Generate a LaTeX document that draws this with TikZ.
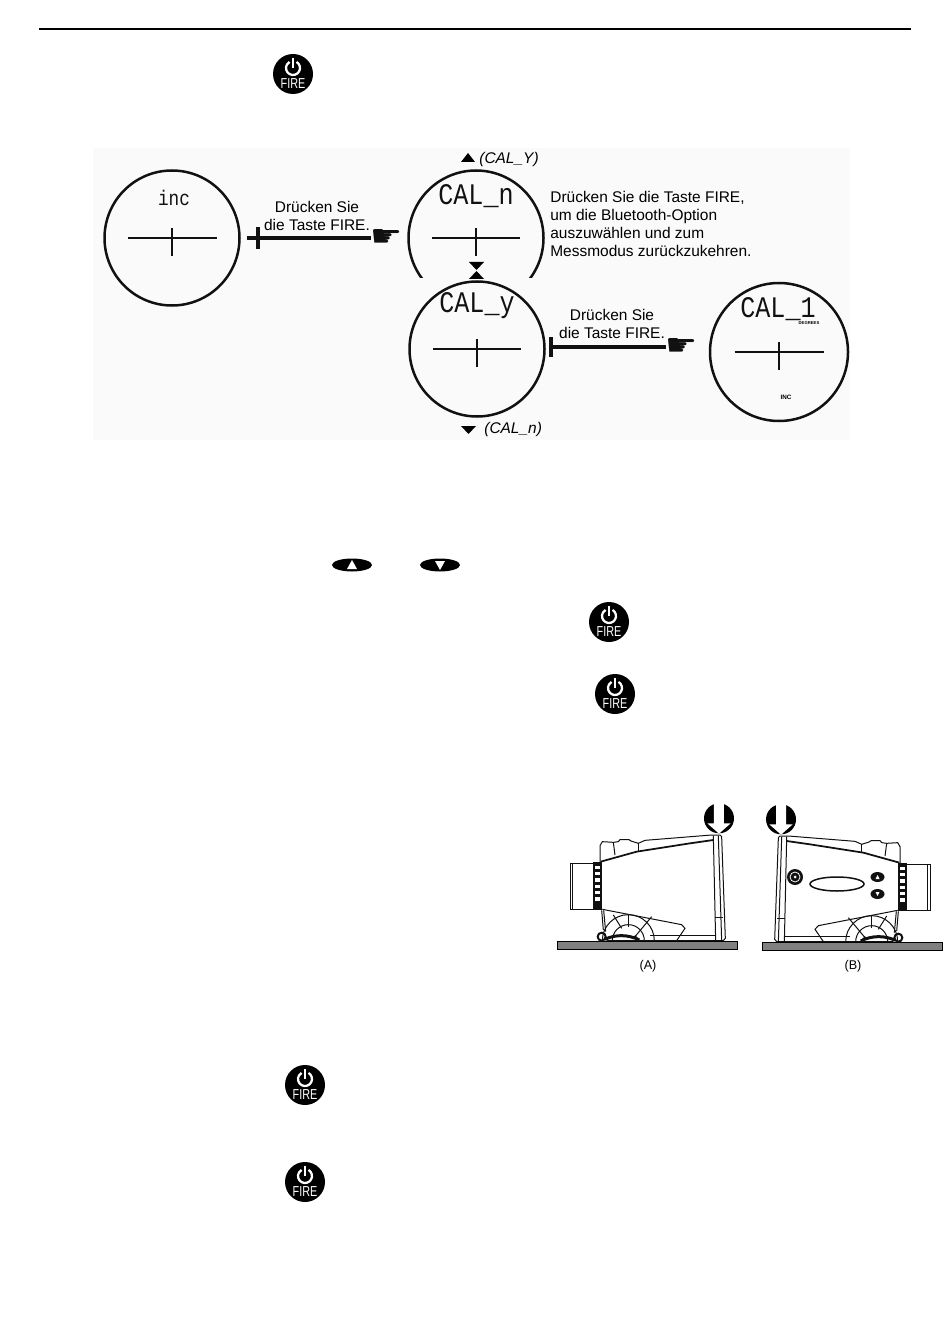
\documentclass[tikz,border=0pt]{standalone}
\usepackage{fontspec}
\setmainfont{Liberation Sans}
\newfontfamily\lcdfont{Liberation Mono}
\newfontfamily\symfont{DejaVu Sans}
\usepackage{xcolor}
\usepackage{tikz}
\definecolor{panel}{HTML}{FAFAFA}
\definecolor{slab}{HTML}{808080}
\definecolor{ink}{HTML}{111111}
\tikzset{
	lens/.style={circle,draw=ink,line width=.5mm,inner sep=0pt,minimum size=27mm},
	lbl/.style={font=\fontsize{8.8}{10.25}\selectfont,align=center,inner sep=0pt},
	lcd/.style={font=\lcdfont\fontsize{17}{17}\selectfont,inner sep=0pt,xscale=.84,text=ink},
	fireline/.style={draw=ink,line width=.65mm},
	hair/.style={draw=ink,line width=.3mm},
	tickmark/.style={fill=ink,inner sep=0pt,minimum width=.7mm,minimum height=4.4mm},
	hand/.style={font=\symfont\fontsize{17}{17}\selectfont,inner sep=0pt,text=ink,xscale=1.2},
	dev/.style={draw=ink,line width=.2mm},
	firebtn/.pic={
		\fill[black] (0,0) circle (20);
		\draw[white,line width=.45mm] (0,-6) ++(-60:7) arc[start angle=-60,end angle=240,radius=7];
		\draw[white,line width=.45mm] (0,-16) -- (0,-6);
		\node[white,inner sep=0pt,xscale=.75,font=\fontsize{8.2}{8.2}\selectfont] (-lbl) at (0,10) {FIRE};
	},
	updown/.pic={
		\fill[black] (0,0) ellipse (20 and 6.5);
	},
	rangefinder/.pic={
		\fill[slab,draw=black,line width=.15mm] (37,438) rectangle (577,463);
		%push arrow
		\fill[black] (522,70) circle (45);
		\fill[white] (507,22) -- (537,22) -- (537,85) -- (557,85) -- (522,116) -- (487,85) -- (507,85) -- cycle;
		%body
		\draw[dev] (165,205) -- (165,152) -- (172,140) -- (205,142) -- (220,140) -- (225,134) -- (252,134) -- (258,138) -- (280,145) -- (300,136) -- (500,120) -- (525,120) -- (530,125) -- (541,430) -- (535,437) -- (185,437);
		\draw[dev] (505,122) -- (512,437);
		\draw[dev] (520,122) -- (530,437);
		\draw[dev] (510,368) -- (535,368);
		\draw[ink,line width=.35mm] (167,200) -- (275,170) -- (435,145) -- (505,135);
		\draw[dev] (205,142) -- (210,180);
		\draw[dev] (280,145) -- (280,170);
		%eyepiece and ring
		\draw[dev] (75,205) rectangle (145,345);
		\draw[dev] (83,205) -- (83,345);
		\fill[ink] (145,200) rectangle (170,346);
		\foreach \r in {212,231,...,325}
		\fill[white] (151,\r) rectangle (164,\r+10);
		%grip
		\draw[dev] (172,343) -- (410,389) -- (420,400) -- (395,437);
		\draw[dev] (170,346) -- (175,405);
		\draw[dev] (176,346) -- (182,410);
		\draw[dev] (172,437) arc[start angle=180,end angle=360,radius=78];
		\draw[dev] (202,437) arc[start angle=180,end angle=360,radius=48];
		\draw[dev] (250,358) -- (250,395);
		\draw[dev] (205,360) -- (230,400);
		\draw[dev] (320,365) -- (270,425);
		\draw[dev] (315,423) -- (510,423);
		%foot
		\draw[ink,line width=.4mm] (170,425) circle (12);
		\draw[ink,line width=.6mm] (180,433) .. controls (210,418) and (250,418) .. (283,435);
		\draw[ink,line width=.5mm] (268,423) -- (280,436);
	},
}
\begin{document}
\begin{tikzpicture}[x=.2mm,y=-.2mm]
	\useasboundingbox (0,0) rectangle (950,1333);
	\fill[panel] (93,148) rectangle (850,440);
	\draw[black,line width=.3mm] (39,29) -- (911,29);
	%lenses
	\node[lens] (lensInc) at (172,238) {};
	\begin{scope}
	\clip (400,150) rectangle (560,278);
	\node[lens] (lensNo) at (476,238) {};
	\end{scope}
	\node[lens] (lensYes) at (477,349) {};
	\node[lens,minimum size=27.6mm] (lensOne) at (779,352) {};
	%cross hairs
	\foreach \n/\w in {lensInc/44.5,lensNo/44,lensYes/44,lensOne/44.5}{
		\draw[hair] ([xshift=-\w*.2mm]\n.center) -- ([xshift=\w*.2mm]\n.center);
		\draw[hair] ([yshift=2mm]\n.center) -- ([yshift=-3.6mm]\n.center);
	}
	%lcd text
	\node[lcd,font=\lcdfont\fontsize{12}{12}\selectfont] (txtInc) at (174,198) {inc};
	\node[lcd] (txtNo) at (476,196) {CAL\_n};
	\node[lcd] (txtYes) at (477,306) {CAL\_y};
	\node[lcd] (txtOne) at (778,309) {CAL\_1};
	\node[inner sep=0pt,font=\bfseries\fontsize{2.4}{2.4}\selectfont] (txtDeg) at (809,323) {DEGREES};
	\node[inner sep=0pt,font=\bfseries\fontsize{3.6}{3.6}\selectfont] (txtMode) at (786,397) {INC};
	%first connector
	\node[hand] (handA) at (387,238) {☛};
	\node[tickmark] (tickA) at (258,238) {};
	\draw[fireline] ([xshift=1.2mm]lensInc.east) -- (handA.west);
	\node[lbl] (pressA) at (317,216) {Drücken Sie\\die Taste FIRE.};
	%second connector
	\node[hand] (handB) at (682,347) {☛};
	\node[tickmark,minimum height=4mm] (tickB) at (551,347) {};
	\draw[fireline] (tickB) -- (handB.west);
	\node[lbl] (pressB) at (612,324) {Drücken Sie\\die Taste FIRE.};
	%note
	\node[lbl,align=left,anchor=north west] (note) at (550,191) {Drücken Sie die Taste FIRE,\\um die Bluetooth-Option\\auszuwählen und zum\\Messmodus zurückzukehren.};
	%triangles
	\fill[black] (468,153) -- (461,162) -- (475,162) -- cycle;
	\fill[black] (469,262) -- (484,262) -- (476.5,270) -- cycle;
	\fill[black] (476.5,271) -- (469,279) -- (484,279) -- cycle;
	\fill[black] (461,426) -- (476,426) -- (468.5,434) -- cycle;
	\node[lbl,anchor=west,font=\itshape\fontsize{8.8}{10.25}\selectfont] (upLbl) at (479,160) {(CAL\_Y)};
	\node[lbl,anchor=west,font=\itshape\fontsize{8.8}{10.25}\selectfont] (downLbl) at (484,429) {(CAL\_n)};
	%buttons
	\foreach \p [count=\ii from 1] in {(293,74),(609,622),(615,694),(305,1085),(305,1182)}
	\pic (fire\ii) at \p {firebtn};
	\pic (btnUp) at (352,565) {updown};
	\fill[white] (352,560) -- (347,569) -- (357,569) -- cycle;
	\pic (btnDown) at (440,565) {updown};
	\fill[white] (435,561) -- (445,561) -- (440,570) -- cycle;
	%devices
	\pic[scale=.3333] (devA) at (545,795) {rangefinder};
	\pic[xscale=-.3333,yscale=.3333] (devB) at (955,796) {rangefinder};
	\fill[ink] (795,877) circle (8);
	\draw[white,line width=.15mm] (795,877) circle (5);
	\fill[white] (795,877) circle (1.5);
	\draw[ink,line width=.3mm] (837,884) ellipse (27 and 7);
	\fill[ink] (877.5,877) ellipse (7 and 5);
	\fill[white] (877.5,875) -- (875.5,879) -- (879.5,879) -- cycle;
	\fill[ink] (877.5,894) ellipse (7 and 5);
	\fill[white] (875.5,892) -- (879.5,892) -- (877.5,896) -- cycle;
	\node[lbl,font=\fontsize{7.2}{8}\selectfont] (capA) at (648,966) {(A)};
	\node[lbl,font=\fontsize{7.2}{8}\selectfont] (capB) at (853,966) {(B)};
\end{tikzpicture}
\end{document}
